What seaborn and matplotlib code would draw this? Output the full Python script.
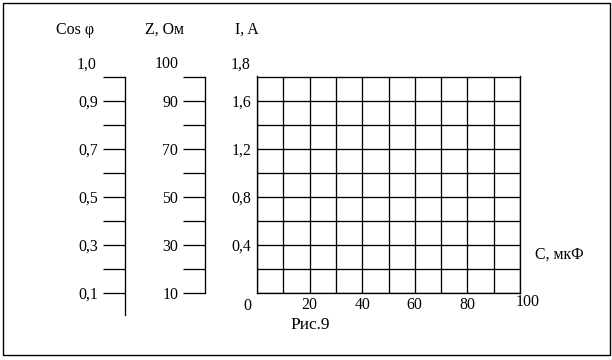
import matplotlib
matplotlib.use("Agg")
import matplotlib.pyplot as plt
import seaborn as sns
from matplotlib.patches import Rectangle

# Scales of the nomogram
cos_ticks = [0.1, 0.2, 0.3, 0.4, 0.5, 0.6, 0.7, 0.8, 0.9, 1.0]
cos_labels = ["0,1", "", "0,3", "", "0,5", "", "0,7", "", "0,9", ""]
cos_top = "1,0"

z_ticks = [10, 20, 30, 40, 50, 60, 70, 80, 90, 100]
z_labels = ["10", "", "30", "", "50", "", "70", "", "90", ""]
z_top = "100"

i_ticks = [0.0, 0.2, 0.4, 0.6, 0.8, 1.0, 1.2, 1.4, 1.6, 1.8]
i_labels = ["", "", "0,4", "", "0,8", "", "1,2", "", "1,6", ""]
i_top = "1,8"

c_ticks = [0, 10, 20, 30, 40, 50, 60, 70, 80, 90, 100]
c_labels = ["", "", "20", "", "40", "", "60", "", "80", "", ""]
c_first = "0"
c_last = "100"

headers = ["Cos φ", "Z, Ом", "I, A"]
x_title = "C, мкФ"
caption = "Рис.9"

sns.set_theme(style="white")
plt.rcParams["font.family"] = ["Liberation Serif", "DejaVu Serif"]
plt.rcParams["axes.edgecolor"] = "black"
plt.rcParams["xtick.color"] = "black"
plt.rcParams["ytick.color"] = "black"
plt.rcParams["text.color"] = "black"

W, H = 612, 360
fig = plt.figure(figsize=(W / 100, H / 100), dpi=100)
fig.patch.set_facecolor("white")

LW = 0.95
FS = 11.4


def box(left, top, right, bottom):
    return [left / W, 1 - bottom / H, (right - left) / W, (bottom - top) / H]


def ftext(x, y, s, **kw):
    fig.text(x / W, 1 - y / H, s, size=kw.pop("size", FS), **kw)


def scale_axis(ax, ticks, labels, lims):
    ax.set_ylim(*lims)
    ax.set_yticks(ticks)
    ax.set_yticklabels(labels, fontsize=FS)
    ax.set_xticks([])
    ax.patch.set_visible(False)
    sns.despine(ax=ax, top=True, right=True, bottom=True, left=False)
    ax.spines["left"].set_linewidth(LW)
    ax.spines["left"].set_color("black")
    ax.tick_params(axis="y", direction="out", length=15.5, width=LW, pad=4, left=True)


# Cos φ scale
ax_cos = fig.add_axes(box(125.3, 76.5, 126.3, 315))
scale_axis(ax_cos, cos_ticks, cos_labels, (0.0087, 1.0))

# Z scale
ax_z = fig.add_axes(box(205.3, 76.5, 206.3, 293))
scale_axis(ax_z, z_ticks, z_labels, (10, 100))

# Current grid
ax = fig.add_axes(box(257, 76.5, 520, 293))
ax.set_xlim(0, 100)
ax.set_ylim(0, 1.8)
ax.set_xticks(c_ticks)
ax.set_xticklabels(c_labels, fontsize=FS)
ax.set_yticks(i_ticks)
ax.set_yticklabels(i_labels, fontsize=FS)
ax.tick_params(axis="x", length=0, pad=3)
ax.tick_params(axis="y", length=0, pad=4.3)
ax.grid(True, color="black", linewidth=LW)
for sp in ax.spines.values():
    sp.set_visible(True)
    sp.set_color("black")
    sp.set_linewidth(LW)

# labels placed off the tick positions
ftext(96.5, 68.5, cos_top, ha="right", va="baseline")
ftext(178.5, 68.5, z_top, ha="right", va="baseline")
ftext(251, 68.5, i_top, ha="right", va="baseline")
ftext(247.5, 310, c_first, ha="center", va="baseline")
ftext(527.5, 306.5, c_last, ha="center", va="baseline")

ftext(75.5, 33.5, headers[0], ha="center", va="baseline")
ftext(164.5, 33.5, headers[1], ha="center", va="baseline")
ftext(247, 33.5, headers[2], ha="center", va="baseline")
ftext(559.5, 259, x_title, ha="center", va="baseline")
ftext(310.5, 329, caption, ha="center", va="baseline", size=12.5)

# frame around the figure
fig.patches.append(Rectangle((2.5 / W, 1 - 354.5 / H), 607.5 / W, 352 / H,
                             transform=fig.transFigure, fill=False,
                             edgecolor="black", linewidth=1.0))

plt.savefig("out.png", dpi=100, facecolor="white")
